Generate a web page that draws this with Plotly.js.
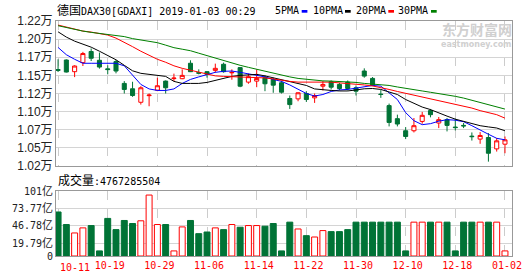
<!DOCTYPE html>
<html><head><meta charset="utf-8">
<script src="https://cdn.plot.ly/plotly-3.0.1.min.js"></script>
<style>html,body{margin:0;padding:0;background:#fff}#chart{width:530px;height:276px}</style>
</head><body><div id="chart"></div>
<script>
// ---- data ----
const days = ['10-11','10-12','10-15','10-16','10-17','10-18','10-19','10-22','10-23','10-24','10-25','10-26','10-29','10-30','10-31',
  '11-01','11-02','11-05','11-06','11-07','11-08','11-09','11-12','11-13','11-14','11-15','11-16','11-19','11-20','11-21','11-22','11-23','11-26','11-27','11-28','11-29','11-30',
  '12-03','12-04','12-05','12-06','12-07','12-10','12-11','12-12','12-13','12-14','12-17','12-18','12-19','12-20','12-21','12-27','12-28','01-02'];
const open  = [11530,11662,11501,11626,11779,11658,11540,11640,11339,11265,11079,11170,11246,11371,11405,11404,11617,11488,11501,11519,11603,11485,11557,11357,11371,11418,11394,11348,11131,11126,11200,11140,11301,11362,11325,11357,11279,11510,11408,11192,11033,10853,10686,10686,10815,10964,10793,10839,10737,10760,10612,10571,10593,10436,10501];
const high  = [11672,11670,11589,11774,11821,11765,11589,11662,11371,11362,11301,11200,11418,11380,11474,11533,11658,11533,11510,11612,11626,11533,11565,11474,11533,11450,11418,11371,11172,11215,11232,11200,11371,11380,11348,11380,11311,11547,11427,11246,11061,10908,10737,10862,10946,10987,10876,10862,10853,10793,10663,10668,10654,10585,10607];
const low   = [11496,11490,11426,11579,11648,11543,11464,11478,11200,11154,11047,11024,11232,11200,11371,11398,11496,11464,11418,11487,11487,11390,11287,11334,11287,11232,11210,11200,10987,11093,11084,11070,11242,11256,11242,11242,11172,11418,11301,11140,10746,10746,10571,10663,10783,10871,10723,10677,10690,10723,10551,10506,10260,10399,10376];
const close = [11520,11496,11579,11751,11686,11565,11530,11510,11256,11172,11279,11178,11307,11279,11412,11450,11501,11480,11464,11547,11501,11492,11301,11432,11408,11334,11315,11218,11047,11210,11117,11172,11325,11287,11269,11269,11232,11440,11315,11186,10801,10779,10607,10756,10899,10908,10839,10760,10730,10753,10605,10621,10376,10547,10561];
const volume = [68.4,48.9,35.8,43.7,47.3,7.9,58.4,41.0,55.2,50.5,54.7,94.7,48.9,48.9,7.9,45.2,55.2,34.7,37.3,43.7,41.0,48.9,44.7,47.3,47.3,46.3,
  50.5,7.9,52.6,42.0,31.6,29.5,39.5,37.9,37.9,41.0,52.6,52.6,52.6,52.6,52.6,52.6,7.9,52.6,52.6,52.6,52.6,52.6,7.9,52.6,52.6,52.6,52.6,52.6,7.9];
const ma5  = [11835,11735,11672,11617,11617,11617,11617,11617,11582,11450,11325,11263,11242,11242,11263,11339,11394,11429,11457,11492,11506,11510,11492,11471,11450,11429,11394,11367,11318,11263,11200,11165,11186,11228,11249,11256,11276,11301,11311,11301,11214,11117,10936,10825,10770,10784,10818,10839,10832,10811,10756,10693,10638,10582,10561];
const ma10 = [12051,11978,11922,11881,11839,11783,11728,11665,11589,11513,11478,11464,11457,11436,11367,11339,11339,11339,11353,11381,11408,11436,11450,11457,11464,11443,11418,11394,11367,11339,11311,11263,11249,11242,11235,11235,11249,11265,11269,11256,11221,11186,11117,11061,11013,10978,10929,10888,10846,10818,10790,10756,10739,10724,10686];
const ma20 = [12144,12117,12089,12061,12047,12026,12006,11964,11908,11846,11783,11728,11672,11631,11582,11547,11519,11492,11464,11443,11436,11432,11429,11429,11426,11415,11401,11381,11367,11357,11357,11357,11357,11357,11346,11339,11328,11318,11304,11283,11256,11228,11203,11183,11158,11131,11107,11079,11054,11033,10999,10964,10936,10908,10860];
const ma30 = [12135,12110,12082,12061,12043,12026,12013,11999,11985,11957,11936,11915,11901,11867,11832,11811,11790,11756,11721,11686,11651,11617,11589,11561,11533,11506,11485,11457,11429,11408,11394,11381,11374,11371,11367,11357,11353,11339,11332,11325,11311,11290,11269,11253,11235,11217,11200,11186,11161,11137,11107,11078,11051,11022,10985];
const tickDays = ['10-11','10-19','10-29','11-06','11-14','11-22','11-30','12-10','12-18','01-02'];
const priceTicks = [10200,10450,10700,10950,11200,11450,11700,11950,12200];
const priceTickText = ['1.02万','1.05万','1.07万','1.10万','1.12万','1.15万','1.17万','1.20万','1.22万'];
const volTicks = [0,19.79,46.78,73.77,101];
const volTickText = ['0','19.79','46.78','73.77','101'];
const maNames = ['5PMA','10PMA','20PMA','30PMA'];
const maColors = ['#0000ff','#000000','#ff0000','#008000'];

const RED = '#ff0000', GREEN = '#007336';
const up = close.map((c,i)=> c >= open[i]);
const mono = 'DejaVu Sans Mono, Noto Sans CJK SC, monospace';

const traces = [
  {type:'candlestick', x:days, open:open, high:high, low:low, close:close, xaxis:'x', yaxis:'y',
   increasing:{line:{color:RED,width:1}, fillcolor:'#ffffff'},
   decreasing:{line:{color:GREEN,width:1}, fillcolor:GREEN},
   whiskerwidth:0, hoverinfo:'skip'},
];
[ma5,ma10,ma20,ma30].forEach((m,k)=>traces.push({type:'scatter', mode:'lines', x:days, y:m, xaxis:'x', yaxis:'y',
  line:{color:maColors[k], width:1}, hoverinfo:'skip'}));
traces.push({type:'bar', x:days, y:volume, xaxis:'x', yaxis:'y2', width:0.72,
  marker:{color:up.map(u=>u?'#ffffff':GREEN), line:{color:up.map(u=>u?RED:GREEN), width:1}}, hoverinfo:'skip'});

const px = v => (v-56)/456, py = v => (256-v)/235;
const annotations = [
  {text:'<span style="font-size:12px">德国</span>DAX30[GDAXI] 2019-01-03 00:29', x:px(56), y:py(10), xanchor:'left', yanchor:'middle'},
  {text:'<span style="font-size:12px">成交量</span>:4767285504', x:px(57), y:py(180), xanchor:'left', yanchor:'middle'},
  {text:tickDays[0], x:px(59), y:py(267), xanchor:'left', yanchor:'middle', font:{family:mono,size:10,color:RED}},
  {text:'<b>东方财富网</b>', x:px(477), y:py(28.5), xanchor:'center', yanchor:'middle', font:{family:'Noto Sans CJK SC',size:14,color:'#d0d0d0'}},
  {text:'<b>eastmoney.com</b>', x:px(476), y:py(44), xanchor:'center', yanchor:'middle', font:{family:'DejaVu Sans',size:8,color:'#d0d0d0'}},
];
const legX = [275,313,356,398], dashX = [301.7,345,388.3,431];
maNames.forEach((n,k)=>annotations.push({text:n, x:px(legX[k]-1), y:py(10), xanchor:'left', yanchor:'middle'}));
annotations.forEach(a=>{a.xref='paper'; a.yref='paper'; a.showarrow=false; a.borderpad=0; if(!a.font) a.font={family:mono,size:10,color:'#000'};});

const shapes = maColors.map((c,k)=>({type:'rect', xref:'paper', yref:'paper', x0:px(dashX[k]), x1:px(dashX[k]+5.7), y0:py(12.7), y1:py(10),
  fillcolor:c, line:{width:0}}));
shapes.push({type:'line', xref:'x', yref:'y', x0:-0.25, x1:54.85, y0:11200, y1:11200, line:{color:'#999999', width:1}, layer:'below'});

const layout = {
  width:530, height:276,
  margin:{l:56, r:18, t:21, b:20, pad:0},
  paper_bgcolor:'#ffffff', plot_bgcolor:'#ffffff',
  showlegend:false, hovermode:false, dragmode:false,
  font:{family:mono, size:10, color:'#000'},
  xaxis:{type:'category', range:[-0.25,54.85], anchor:'y2', tickmode:'array', tickvals:tickDays,
    ticktext:tickDays.map((d,i)=> i===0 ? '' : d),
    showgrid:true, gridcolor:'#cccccc', griddash:'dash', gridwidth:1, ticks:'',
    showline:true, linecolor:'#999999', linewidth:1, mirror:'all',
    tickfont:{family:mono, size:10, color:RED}, rangeslider:{visible:false}, fixedrange:true, zeroline:false, ticklabelshift:2},
  yaxis:{domain:[90/235,1], range:[10200,12200], tickmode:'array', tickvals:priceTicks, ticktext:priceTickText,
    showgrid:true, gridcolor:'#d4d4d4', showline:true, linecolor:'#999999', linewidth:1, mirror:true, ticks:'', zeroline:false,
    tickfont:{family:'Liberation Sans, Noto Sans CJK SC, sans-serif', size:12, color:'#222'}, fixedrange:true},
  yaxis2:{domain:[0,65/235], range:[0,101], tickmode:'array', tickvals:volTicks,
    ticktext:volTickText.map(t=> t==='0' ? t : t+'<span style="font-size:11px">亿</span>'),
    showgrid:true, gridcolor:'#d4d4d4', showline:true, linecolor:'#999999', linewidth:1, mirror:true, ticks:'', zeroline:false,
    tickfont:{family:mono, size:10, color:'#222'}, fixedrange:true},
  annotations:annotations, shapes:shapes
};
Plotly.newPlot('chart', traces, layout, {staticPlot:true, displayModeBar:false});
</script></body></html>
